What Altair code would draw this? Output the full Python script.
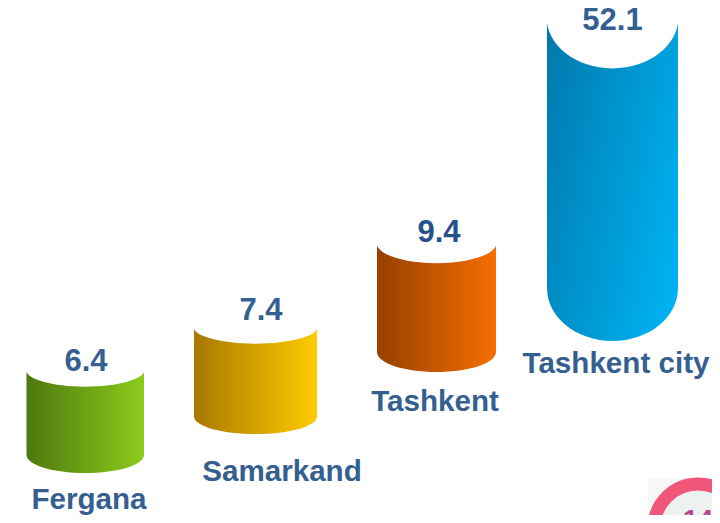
import altair as alt
import pandas as pd

# Values and names
regions = ["Fergana", "Samarkand", "Tashkent", "Tashkent city"]
values = ["6.4", "7.4", "9.4", "52.1"]

# Layout (page pixels)
left = [26.5, 194, 377, 547]
right = [144, 317, 496, 678]
top = [370, 327, 243, 17]
bottom = [455, 416.5, 352, 288]
ry_top = [16.5, 16.5, 20, 51]
ry_bottom = [18, 17.5, 20, 53]
value_x = [86, 261, 439, 612.5]
value_y = [361.5, 310.5, 232.5, 20.5]
value_ink = ["#355f91", "#355f91", "#26528c", "#355f91"]
label_x = [89, 282, 435, 616]
label_y = [500, 471.5, 402, 364]
shade = [
    ("#4e780e", "#8bcc1b", 1, 0),
    ("#a87800", "#ffcc00", 1, 0),
    ("#964000", "#f76e00", 1, 0),
    ("#0078ab", "#00b6f7", 1.19, 0.645),
]
badge_box = [648, 720, 478, 523]
badge_centre = [698, 528]
badge_text = ["14"]

INK = "#355f91"
FONT = "Liberation Sans"

PAGE_W = 704
PAGE_H = 507

x_scale = alt.Scale(domain=[8, 8 + PAGE_W], nice=False, zero=False)
y_scale = alt.Scale(domain=[8 + PAGE_H, 8], nice=False, zero=False)
X = lambda f="x": alt.X(f"{f}:Q", scale=x_scale, axis=None)
Y = lambda f="y": alt.Y(f"{f}:Q", scale=y_scale, axis=None)


def gradient(a, b, x2=1, y2=0):
    return alt.LinearGradient(
        gradient="linear",
        x1=0, y1=0, x2=x2, y2=y2,
        stops=[alt.GradientStop(color=a, offset=0), alt.GradientStop(color=b, offset=1)],
    )


def ellipse(ratio):
    return f"M-1,0A1,{ratio:.4f} 0 1,0 1,0A1,{ratio:.4f} 0 1,0 -1,0Z"


def body(half, ratio):
    """Straight walls and a rounded foot, in units of half the cylinder's width."""
    return f"M-1,{-half:.4f}L1,{-half:.4f}L1,{half:.4f}A1,{ratio:.4f} 0 0,1 -1,{half:.4f}Z"


layers = []
for i, name in enumerate(regions):
    w = right[i] - left[i]
    cx = (left[i] + right[i]) / 2
    one = pd.DataFrame([{
        "cx": cx, "mid": (top[i] + bottom[i]) / 2, "top": top[i], "region": name, "value": values[i],
    }])
    half = (bottom[i] - top[i]) / w
    layers.append(
        alt.Chart(one).mark_point(
            shape=body(half, ry_bottom[i] / (w / 2)), size=w * w, filled=True,
            fill=gradient(*shade[i]), opacity=1, strokeWidth=0,
        ).encode(x=X("cx"), y=Y("mid"))
    )
    layers.append(
        alt.Chart(one).mark_point(
            shape=ellipse(ry_top[i] / (w / 2)), size=(w + 1) ** 2, filled=True,
            fill="white", opacity=1, strokeWidth=0,
        ).encode(x=X("cx"), y=Y("top"))
    )

value_table = pd.DataFrame({"x": value_x, "y": value_y, "t": values, "ink": value_ink})
label_table = pd.DataFrame({"x": label_x, "y": label_y, "t": regions})
layers.append(
    alt.Chart(value_table).mark_text(font=FONT, fontWeight="bold", fontSize=31, baseline="middle")
    .encode(x=X(), y=Y(), text="t:N", color=alt.Color("ink:N", scale=None, legend=None))
)
layers.append(
    alt.Chart(label_table).mark_text(font=FONT, fontWeight="bold", fontSize=29.6, color=INK, baseline="middle")
    .encode(x=X(), y=Y(), text="t:N")
)

# Corner badge, cut off by the picture's edge
box = pd.DataFrame([{"x": badge_box[0], "x2": badge_box[1], "y": badge_box[2], "y2": badge_box[3]}])
centre = pd.DataFrame([{"x": badge_centre[0], "y": badge_centre[1], "t": badge_text[0]}])
layers.append(alt.Chart(box).mark_rect(fill="#f6f7f7").encode(x=X(), x2="x2:Q", y=Y(), y2="y2:Q"))
layers.append(
    alt.Chart(centre).mark_point(
        shape="circle", size=88 * 88, filled=False, fill="#edf1f0", stroke="#f0557a",
        strokeWidth=13, opacity=1,
    ).encode(x=X(), y=Y())
)
layers.append(
    alt.Chart(centre).mark_text(font=FONT, fontWeight="bold", fontSize=27, color="#b5488c", baseline="alphabetic", dy=1)
    .encode(x=X(), y=Y(), text="t:N")
)

chart = (
    alt.layer(*layers)
    .properties(width=PAGE_W, height=PAGE_H, padding=0, autosize=alt.AutoSizeParams(type="none"), background="white")
    .configure_view(stroke=None)
)
chart.save("out.html", embed_options={"renderer": "svg", "actions": False})
